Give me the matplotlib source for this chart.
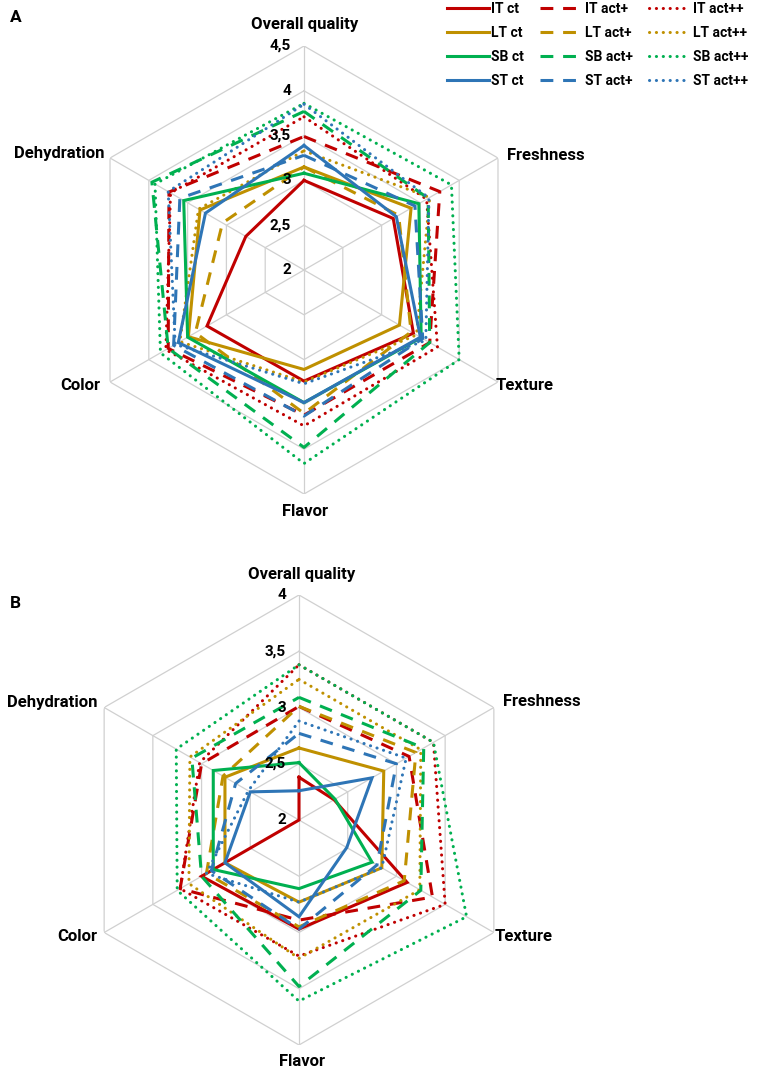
import numpy as np
import matplotlib
matplotlib.use('Agg')
import matplotlib.pyplot as plt
from matplotlib.lines import Line2D

categories = ["Overall quality", "Freshness", "Texture", "Flavor", "Color", "Dehydration"]
series_names = ["IT ct", "IT act+", "IT act++",
                "LT ct", "LT act+", "LT act++",
                "SB ct", "SB act+", "SB act++",
                "ST ct", "ST act+", "ST act++"]

# Panel A values (order follows categories)
a_it_ct = [3.00, 3.15, 3.41, 3.24, 3.25, 2.75]
a_it_act1 = [3.49, 3.75, 3.62, 3.62, 3.75, 3.74]
a_it_act2 = [3.71, 3.58, 3.72, 3.74, 3.78, 3.72]
a_lt_ct = [3.15, 3.38, 3.23, 3.11, 3.49, 3.34]
a_lt_act1 = [3.15, 3.22, 3.38, 3.60, 3.40, 3.05]
a_lt_act2 = [3.33, 3.62, 3.45, 3.25, 3.60, 3.36]
a_sb_ct = [3.08, 3.48, 3.51, 3.48, 3.50, 3.55]
a_sb_act1 = [3.77, 3.60, 3.62, 3.98, 3.75, 3.96]
a_sb_act2 = [3.86, 3.90, 4.00, 4.16, 3.85, 3.92]
a_st_ct = [3.39, 3.19, 3.50, 3.48, 3.62, 3.27]
a_st_act1 = [3.28, 3.43, 3.53, 3.63, 3.68, 3.60]
a_st_act2 = [3.85, 3.61, 3.57, 3.27, 3.66, 3.75]

# Panel B values
b_it_ct = [2.38, 2.36, 3.11, 2.97, 3.00, 2.00]
b_it_act1 = [3.01, 3.13, 3.37, 2.89, 3.22, 3.00]
b_it_act2 = [3.38, 3.38, 3.50, 3.21, 3.22, 3.02]
b_lt_ct = [2.64, 2.87, 2.85, 2.73, 2.76, 2.76]
b_lt_act1 = [3.01, 3.20, 3.08, 2.95, 2.95, 2.78]
b_lt_act2 = [3.25, 3.25, 3.24, 3.23, 3.13, 3.12]
b_sb_ct = [2.51, 2.37, 2.75, 2.61, 2.88, 2.88]
b_sb_act1 = [3.09, 3.28, 3.25, 3.48, 3.00, 3.10]
b_sb_act2 = [3.38, 3.38, 3.72, 3.61, 3.25, 3.26]
b_st_ct = [2.26, 2.75, 2.49, 2.86, 2.76, 2.50]
b_st_act1 = [2.77, 3.00, 2.80, 2.97, 2.90, 2.65]
b_st_act2 = [2.88, 3.10, 2.85, 2.73, 2.95, 2.52]

a_ticks = [2, 2.5, 3, 3.5, 4, 4.5]
b_ticks = [2, 2.5, 3, 3.5, 4]
a_tick_labels = ["2", "2,5", "3", "3,5", "4", "4,5"]
b_tick_labels = ["2", "2,5", "3", "3,5", "4"]

panel_a = dict(zip(series_names, [a_it_ct, a_it_act1, a_it_act2, a_lt_ct, a_lt_act1, a_lt_act2,
                                  a_sb_ct, a_sb_act1, a_sb_act2, a_st_ct, a_st_act1, a_st_act2]))
panel_b = dict(zip(series_names, [b_it_ct, b_it_act1, b_it_act2, b_lt_ct, b_lt_act1, b_lt_act2,
                                  b_sb_ct, b_sb_act1, b_sb_act2, b_st_ct, b_st_act1, b_st_act2]))

colors = {"IT": "#C00000", "LT": "#BF9000", "SB": "#00B050", "ST": "#2E75B6"}
styles = {"ct": dict(linestyle="-", dash_capstyle="butt"),
          "act+": dict(linestyle=(0, (4.2, 3.2)), dash_capstyle="butt"),
          "act++": dict(linestyle=(0, (0.05, 2.2)), dash_capstyle="round")}
LW = 2.2
GRID = "#D0D0D0"
FONT = "Roboto"

# label placement: (ha, dx, dy) in pixels relative to outer vertex
label_pos_a = [("center", 1, 22), ("left", 9, 3), ("left", -2, -4),
               ("center", 1, -17), ("right", -10, -3), ("right", -6, 5)]
label_pos_b = [("center", 3, 21), ("left", 9, 6), ("left", 1, -4),
               ("center", 3, -17), ("right", -7, -4), ("right", -7, 5)]


def style_of(name):
    prefix, kind = name.split(" ")
    return colors[prefix], styles[kind]


def draw_radar(ax, data, ticks, tick_labels, label_pos):
    n = len(categories)
    angles = np.linspace(0, 2 * np.pi, n, endpoint=False)
    closed = np.append(angles, angles[0])
    rmin, rmax = ticks[0], ticks[-1]

    ax.set_theta_zero_location("N")
    ax.set_theta_direction(-1)
    ax.set_ylim(rmin, rmax)
    ax.axis("off")

    # hexagonal grid
    for t in ticks[1:]:
        ax.plot(closed, [t] * (n + 1), color=GRID, lw=0.9, zorder=1)
    for a in angles:
        ax.plot([a, a], [rmin, rmax], color=GRID, lw=0.9, zorder=1)

    # series
    for i, name in enumerate(series_names):
        vals = data[name]
        c, st = style_of(name)
        ax.plot(closed, vals + vals[:1], color=c, lw=LW, zorder=3 + i,
                solid_joinstyle="miter", **st)

    # tick labels along the top spoke
    for t, lab in zip(ticks, tick_labels):
        ax.annotate(lab, xy=(0, t), xytext=(-13, 0), textcoords="offset pixels",
                    ha="right", va="center", fontsize=11, fontweight="bold",
                    family=FONT, zorder=20)

    # category labels
    for a, cat, (ha, dx, dy) in zip(angles, categories, label_pos):
        ax.annotate(cat, xy=(a, rmax), xytext=(dx, dy), textcoords="offset pixels",
                    ha=ha, va="center", fontsize=12, fontweight="bold",
                    family=FONT, annotation_clip=False)


W, H = 772, 1076
fig = plt.figure(figsize=(W / 100, H / 100), dpi=100)

ax_a = fig.add_axes([80 / W, (H - 270 - 224) / H, 448 / W, 448 / H], projection="polar")
draw_radar(ax_a, panel_a, a_ticks, a_tick_labels, label_pos_a)

ax_b = fig.add_axes([74 / W, (H - 820 - 225) / H, 450 / W, 450 / H], projection="polar")
draw_radar(ax_b, panel_b, b_ticks, b_tick_labels, label_pos_b)

fig.text(10 / W, 1 - 18 / H, "A", fontsize=12.5, fontweight="bold", family=FONT, va="center")
fig.text(10 / W, 1 - 603 / H, "B", fontsize=12.5, fontweight="bold", family=FONT, va="center")

# legend: rows IT/LT/SB/ST, columns ct / act+ / act++
legend_order = [n for kind in ["ct", "act+", "act++"] for n in series_names if n.endswith(" " + kind)]
handles = []
for name in legend_order:
    c, st = style_of(name)
    handles.append(Line2D([], [], color=c, lw=LW, **st))
fig.legend(handles, legend_order, ncol=3, loc="upper left",
           bbox_to_anchor=(447 / W, 1 - 2 / H), frameon=False,
           prop=dict(family=FONT, weight="bold", size=10),
           handlelength=3.0, handletextpad=0.2, columnspacing=1.15,
           labelspacing=0.72, borderaxespad=0, borderpad=0)

fig.savefig("out.png", dpi=100)
